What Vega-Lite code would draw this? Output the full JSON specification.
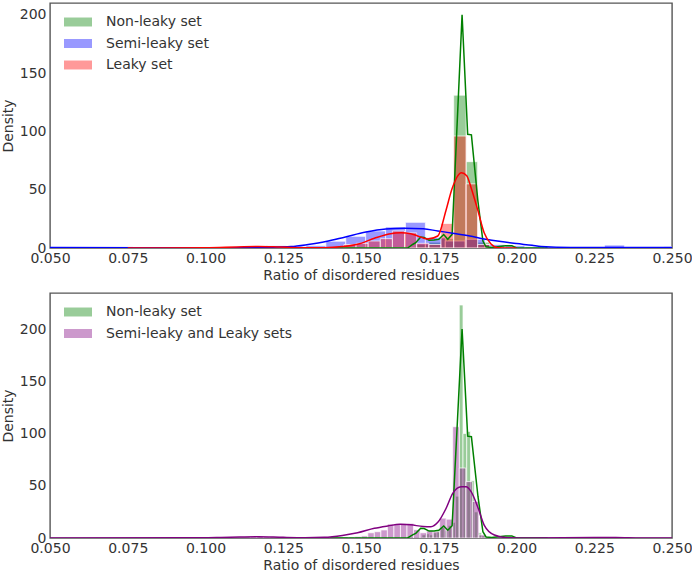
{
  "$schema": "https://vega.github.io/schema/vega-lite/v6.json",
  "background": "white",
  "padding": {"left": 0, "top": 2, "right": 5, "bottom": 0},
  "spacing": 9,
  "config": {
    "font": "DejaVu Sans",
    "view": {"stroke": "#555555", "strokeWidth": 1.4},
    "axis": {"grid": false, "ticks": false, "tickSize": 0, "domain": false, "labelFontSize": 14, "labelColor": "#333333", "titleFontSize": 14, "titleColor": "#333333", "titleFontWeight": "normal", "labelFont": "DejaVu Sans", "titleFont": "DejaVu Sans"},
    "legend": {"labelFont": "DejaVu Sans", "labelLimit": 400}
  },
  "datasets": {
    "hist_top": [
      {"set": "Non-leaky set", "x0": 0.1679, "x1": 0.1718, "d": 3},
      {"set": "Non-leaky set", "x0": 0.1718, "x1": 0.1757, "d": 5},
      {"set": "Non-leaky set", "x0": 0.1757, "x1": 0.1798, "d": 8},
      {"set": "Non-leaky set", "x0": 0.1798, "x1": 0.1838, "d": 131},
      {"set": "Non-leaky set", "x0": 0.1838, "x1": 0.1875, "d": 74},
      {"set": "Non-leaky set", "x0": 0.1875, "x1": 0.1914, "d": 5},
      {"set": "Non-leaky set", "x0": 0.1914, "x1": 0.1953, "d": 1},
      {"set": "Non-leaky set", "x0": 0.1953, "x1": 0.1992, "d": 1},
      {"set": "Semi-leaky set", "x0": 0.05, "x1": 0.0564, "d": 0.5},
      {"set": "Semi-leaky set", "x0": 0.1195, "x1": 0.1259, "d": 2},
      {"set": "Semi-leaky set", "x0": 0.1259, "x1": 0.1323, "d": 1},
      {"set": "Semi-leaky set", "x0": 0.1323, "x1": 0.1387, "d": 2},
      {"set": "Semi-leaky set", "x0": 0.1387, "x1": 0.1451, "d": 5.8},
      {"set": "Semi-leaky set", "x0": 0.1451, "x1": 0.1515, "d": 10},
      {"set": "Semi-leaky set", "x0": 0.1515, "x1": 0.1579, "d": 14.6},
      {"set": "Semi-leaky set", "x0": 0.1579, "x1": 0.1643, "d": 18},
      {"set": "Semi-leaky set", "x0": 0.1643, "x1": 0.1707, "d": 22},
      {"set": "Semi-leaky set", "x0": 0.1707, "x1": 0.1771, "d": 9},
      {"set": "Semi-leaky set", "x0": 0.1771, "x1": 0.1835, "d": 6},
      {"set": "Semi-leaky set", "x0": 0.1835, "x1": 0.1899, "d": 7.5},
      {"set": "Semi-leaky set", "x0": 0.1899, "x1": 0.1963, "d": 3},
      {"set": "Semi-leaky set", "x0": 0.1963, "x1": 0.2027, "d": 2},
      {"set": "Semi-leaky set", "x0": 0.2027, "x1": 0.2091, "d": 1},
      {"set": "Semi-leaky set", "x0": 0.2283, "x1": 0.2347, "d": 2.5},
      {"set": "Semi-leaky set", "x0": 0.2475, "x1": 0.25, "d": 1},
      {"set": "Leaky set", "x0": 0.1133, "x1": 0.1172, "d": 1.5},
      {"set": "Leaky set", "x0": 0.1172, "x1": 0.1211, "d": 1},
      {"set": "Leaky set", "x0": 0.1445, "x1": 0.1484, "d": 3},
      {"set": "Leaky set", "x0": 0.1484, "x1": 0.1523, "d": 4},
      {"set": "Leaky set", "x0": 0.1523, "x1": 0.1562, "d": 6},
      {"set": "Leaky set", "x0": 0.1562, "x1": 0.1601, "d": 8},
      {"set": "Leaky set", "x0": 0.1601, "x1": 0.164, "d": 14.6},
      {"set": "Leaky set", "x0": 0.164, "x1": 0.1679, "d": 13},
      {"set": "Leaky set", "x0": 0.1679, "x1": 0.1718, "d": 4},
      {"set": "Leaky set", "x0": 0.1718, "x1": 0.1757, "d": 3},
      {"set": "Leaky set", "x0": 0.1757, "x1": 0.1798, "d": 21},
      {"set": "Leaky set", "x0": 0.1798, "x1": 0.1838, "d": 96},
      {"set": "Leaky set", "x0": 0.1838, "x1": 0.1875, "d": 55},
      {"set": "Leaky set", "x0": 0.1875, "x1": 0.1914, "d": 3},
      {"set": "Leaky set", "x0": 0.1914, "x1": 0.1953, "d": 1}
    ],
    "hist_bottom": [
      {"set": "Non-leaky set", "x0": 0.1696, "x1": 0.1708, "d": 3},
      {"set": "Non-leaky set", "x0": 0.1708, "x1": 0.172, "d": 4},
      {"set": "Non-leaky set", "x0": 0.172, "x1": 0.1732, "d": 3},
      {"set": "Non-leaky set", "x0": 0.1732, "x1": 0.1744, "d": 5},
      {"set": "Non-leaky set", "x0": 0.1744, "x1": 0.1756, "d": 8},
      {"set": "Non-leaky set", "x0": 0.1756, "x1": 0.1768, "d": 10},
      {"set": "Non-leaky set", "x0": 0.1768, "x1": 0.178, "d": 7},
      {"set": "Non-leaky set", "x0": 0.178, "x1": 0.1792, "d": 12},
      {"set": "Non-leaky set", "x0": 0.1792, "x1": 0.1804, "d": 15},
      {"set": "Non-leaky set", "x0": 0.1804, "x1": 0.1816, "d": 40},
      {"set": "Non-leaky set", "x0": 0.1816, "x1": 0.1828, "d": 223},
      {"set": "Non-leaky set", "x0": 0.1828, "x1": 0.184, "d": 100},
      {"set": "Non-leaky set", "x0": 0.184, "x1": 0.1852, "d": 102},
      {"set": "Non-leaky set", "x0": 0.1852, "x1": 0.1864, "d": 55},
      {"set": "Non-leaky set", "x0": 0.1864, "x1": 0.1876, "d": 25},
      {"set": "Non-leaky set", "x0": 0.1876, "x1": 0.1888, "d": 5},
      {"set": "Non-leaky set", "x0": 0.1888, "x1": 0.19, "d": 2},
      {"set": "Semi-leaky and Leaky sets", "x0": 0.11439, "x1": 0.11649, "d": 1},
      {"set": "Semi-leaky and Leaky sets", "x0": 0.11649, "x1": 0.11859, "d": 1.5},
      {"set": "Semi-leaky and Leaky sets", "x0": 0.11859, "x1": 0.12069, "d": 1},
      {"set": "Semi-leaky and Leaky sets", "x0": 0.14589, "x1": 0.14799, "d": 1},
      {"set": "Semi-leaky and Leaky sets", "x0": 0.14799, "x1": 0.15009, "d": 1.5},
      {"set": "Semi-leaky and Leaky sets", "x0": 0.15009, "x1": 0.15219, "d": 2},
      {"set": "Semi-leaky and Leaky sets", "x0": 0.15219, "x1": 0.15429, "d": 5},
      {"set": "Semi-leaky and Leaky sets", "x0": 0.15429, "x1": 0.15639, "d": 6},
      {"set": "Semi-leaky and Leaky sets", "x0": 0.15639, "x1": 0.15849, "d": 7.7},
      {"set": "Semi-leaky and Leaky sets", "x0": 0.15849, "x1": 0.16059, "d": 13.4},
      {"set": "Semi-leaky and Leaky sets", "x0": 0.16059, "x1": 0.16269, "d": 13.4},
      {"set": "Semi-leaky and Leaky sets", "x0": 0.16269, "x1": 0.16479, "d": 14},
      {"set": "Semi-leaky and Leaky sets", "x0": 0.16479, "x1": 0.16689, "d": 14},
      {"set": "Semi-leaky and Leaky sets", "x0": 0.16689, "x1": 0.16899, "d": 8},
      {"set": "Semi-leaky and Leaky sets", "x0": 0.16899, "x1": 0.17109, "d": 5},
      {"set": "Semi-leaky and Leaky sets", "x0": 0.17109, "x1": 0.17319, "d": 7},
      {"set": "Semi-leaky and Leaky sets", "x0": 0.17319, "x1": 0.17529, "d": 6},
      {"set": "Semi-leaky and Leaky sets", "x0": 0.17529, "x1": 0.17739, "d": 19},
      {"set": "Semi-leaky and Leaky sets", "x0": 0.17739, "x1": 0.17949, "d": 18},
      {"set": "Semi-leaky and Leaky sets", "x0": 0.17949, "x1": 0.18159, "d": 106.5},
      {"set": "Semi-leaky and Leaky sets", "x0": 0.18159, "x1": 0.18369, "d": 67},
      {"set": "Semi-leaky and Leaky sets", "x0": 0.18369, "x1": 0.18579, "d": 54},
      {"set": "Semi-leaky and Leaky sets", "x0": 0.18579, "x1": 0.18789, "d": 35},
      {"set": "Semi-leaky and Leaky sets", "x0": 0.18789, "x1": 0.18999, "d": 3},
      {"set": "Semi-leaky and Leaky sets", "x0": 0.18999, "x1": 0.19209, "d": 1},
      {"set": "Semi-leaky and Leaky sets", "x0": 0.22569, "x1": 0.22779, "d": 1},
      {"set": "Semi-leaky and Leaky sets", "x0": 0.22779, "x1": 0.22989, "d": 1},
      {"set": "Semi-leaky and Leaky sets", "x0": 0.22989, "x1": 0.23199, "d": 1}
    ],
    "kde_green": [
      {"x": 0.14, "d": 0}, {"x": 0.165, "d": 0}, {"x": 0.1666, "d": 3}, {"x": 0.1676, "d": 4.5},
      {"x": 0.1692, "d": 9.4}, {"x": 0.1703, "d": 9}, {"x": 0.1719, "d": 6.6}, {"x": 0.1735, "d": 6.8},
      {"x": 0.175, "d": 7.4}, {"x": 0.1766, "d": 11.5}, {"x": 0.1779, "d": 7.5}, {"x": 0.1793, "d": 11.7},
      {"x": 0.1825, "d": 200}, {"x": 0.1843, "d": 97.5}, {"x": 0.1855, "d": 97}, {"x": 0.1876, "d": 40},
      {"x": 0.1892, "d": 6}, {"x": 0.1902, "d": 1}, {"x": 0.192, "d": 0.5}, {"x": 0.1965, "d": 2},
      {"x": 0.1985, "d": 2}, {"x": 0.2, "d": 0}, {"x": 0.21, "d": 0}
    ],
    "kde_blue": [
      {"x": 0.05, "d": 0.4}, {"x": 0.08, "d": 0.3}, {"x": 0.11, "d": 0.3}, {"x": 0.12, "d": 0.6},
      {"x": 0.1275, "d": 1.2}, {"x": 0.133, "d": 3}, {"x": 0.1387, "d": 5.5}, {"x": 0.145, "d": 9.5},
      {"x": 0.1516, "d": 13.7}, {"x": 0.158, "d": 16.3}, {"x": 0.164, "d": 17}, {"x": 0.17, "d": 16.5},
      {"x": 0.1747, "d": 14.6}, {"x": 0.18, "d": 12.5}, {"x": 0.185, "d": 10.3}, {"x": 0.1896, "d": 7.8},
      {"x": 0.195, "d": 5.5}, {"x": 0.2, "d": 3.8}, {"x": 0.205, "d": 2.3}, {"x": 0.2079, "d": 1.3},
      {"x": 0.2175, "d": 0.5}, {"x": 0.235, "d": 0.5}, {"x": 0.25, "d": 0.5}
    ],
    "kde_red": [
      {"x": 0.075, "d": 0}, {"x": 0.1, "d": 0.3}, {"x": 0.11, "d": 0.9}, {"x": 0.117, "d": 1.3},
      {"x": 0.124, "d": 0.8}, {"x": 0.13, "d": 0.3}, {"x": 0.1382, "d": 0.2}, {"x": 0.144, "d": 1.2},
      {"x": 0.1489, "d": 3.2}, {"x": 0.1543, "d": 8.3}, {"x": 0.159, "d": 12}, {"x": 0.1629, "d": 13.1},
      {"x": 0.166, "d": 12.3}, {"x": 0.1682, "d": 10.3}, {"x": 0.1714, "d": 7.7}, {"x": 0.1747, "d": 10.3},
      {"x": 0.1773, "d": 32}, {"x": 0.1793, "d": 51}, {"x": 0.1823, "d": 64.5}, {"x": 0.184, "d": 62},
      {"x": 0.1854, "d": 51.7}, {"x": 0.1875, "d": 33}, {"x": 0.1896, "d": 13}, {"x": 0.1918, "d": 3.4},
      {"x": 0.194, "d": 0.3}, {"x": 0.2, "d": 0}
    ],
    "kde_purple": [
      {"x": 0.05, "d": 0}, {"x": 0.095, "d": 0.2}, {"x": 0.108, "d": 0.8}, {"x": 0.117, "d": 1.2},
      {"x": 0.125, "d": 0.6}, {"x": 0.132, "d": 0.3}, {"x": 0.1382, "d": 0.7}, {"x": 0.144, "d": 2.5},
      {"x": 0.1489, "d": 5}, {"x": 0.1543, "d": 9.3}, {"x": 0.1586, "d": 11.5}, {"x": 0.1625, "d": 13.1},
      {"x": 0.166, "d": 12.6}, {"x": 0.17, "d": 11}, {"x": 0.1725, "d": 10.8}, {"x": 0.1747, "d": 15},
      {"x": 0.1773, "d": 28}, {"x": 0.1795, "d": 42.8}, {"x": 0.1822, "d": 49}, {"x": 0.1838, "d": 49},
      {"x": 0.1854, "d": 44.3}, {"x": 0.1875, "d": 30}, {"x": 0.1896, "d": 12.4}, {"x": 0.1929, "d": 2.9},
      {"x": 0.1972, "d": 0.3}, {"x": 0.205, "d": 0}, {"x": 0.225, "d": 0.5}, {"x": 0.232, "d": 0.5},
      {"x": 0.24, "d": 0}, {"x": 0.25, "d": 0}
    ]
  },
  "vconcat": [
    {
      "width": 622,
      "height": 245,
      "layer": [
        {
          "data": {"name": "hist_top"},
          "mark": {"type": "rect", "fillOpacity": 0.4, "stroke": "white", "strokeWidth": 1, "strokeOpacity": 0.7, "clip": true},
          "encoding": {
            "x": {"field": "x0", "type": "quantitative", "scale": {"domain": [0.05, 0.25], "nice": false, "zero": false},
              "axis": {"values": [0.05, 0.075, 0.1, 0.125, 0.15, 0.175, 0.2, 0.225, 0.25], "format": ".3f", "labelPadding": 3, "labelFlush": false, "title": "Ratio of disordered residues", "titlePadding": 3}},
            "x2": {"field": "x1"},
            "y": {"field": "d", "type": "quantitative", "scale": {"domain": [0, 210], "nice": false},
              "axis": {"values": [0, 25, 50, 75, 100, 125, 150, 175, 200], "labelPadding": 4, "title": "Density", "titlePadding": 4}},
            "y2": {"datum": 0},
            "fill": {"field": "set", "type": "nominal",
              "scale": {"domain": ["Non-leaky set", "Semi-leaky set", "Leaky set"], "range": ["green", "blue", "red"]},
              "legend": {"title": null, "orient": "none", "legendX": 21, "legendY": 12, "symbolType": "M-2,-0.64H2V0.64H-2Z", "symbolSize": 196, "symbolOpacity": 0.4, "symbolStrokeWidth": 0, "labelFontSize": 14, "labelColor": "#333333", "labelOffset": 21, "rowPadding": 7.5}}
          }
        },
        {
          "data": {"name": "kde_green"},
          "mark": {"type": "line", "color": "green", "strokeWidth": 1.5, "clip": true},
          "encoding": {"x": {"field": "x", "type": "quantitative"}, "y": {"field": "d", "type": "quantitative"}}
        },
        {
          "data": {"name": "kde_blue"},
          "mark": {"type": "line", "color": "blue", "strokeWidth": 1.5, "interpolate": "monotone", "clip": true},
          "encoding": {"x": {"field": "x", "type": "quantitative"}, "y": {"field": "d", "type": "quantitative"}}
        },
        {
          "data": {"name": "kde_red"},
          "mark": {"type": "line", "color": "red", "strokeWidth": 1.5, "interpolate": "monotone", "clip": true},
          "encoding": {"x": {"field": "x", "type": "quantitative"}, "y": {"field": "d", "type": "quantitative"}}
        },
        {
          "mark": {"type": "text", "text": "A", "fontSize": 20, "fontWeight": "bold", "font": "DejaVu Sans", "color": "#262626", "align": "center", "baseline": "middle"},
          "encoding": {"x": {"datum": 0.2375, "type": "quantitative"}, "y": {"datum": 177, "type": "quantitative"}}
        }
      ]
    },
    {
      "width": 622,
      "height": 245,
      "layer": [
        {
          "data": {"name": "hist_bottom"},
          "mark": {"type": "rect", "fillOpacity": 0.4, "stroke": "white", "strokeWidth": 1, "strokeOpacity": 0.7, "clip": true},
          "encoding": {
            "x": {"field": "x0", "type": "quantitative", "scale": {"domain": [0.05, 0.25], "nice": false, "zero": false},
              "axis": {"values": [0.05, 0.075, 0.1, 0.125, 0.15, 0.175, 0.2, 0.225, 0.25], "format": ".3f", "labelPadding": 3, "labelFlush": false, "title": "Ratio of disordered residues", "titlePadding": 3}},
            "x2": {"field": "x1"},
            "y": {"field": "d", "type": "quantitative", "scale": {"domain": [0, 234.5], "nice": false},
              "axis": {"values": [0, 50, 100, 150, 200], "labelPadding": 4, "title": "Density", "titlePadding": 4}},
            "y2": {"datum": 0},
            "fill": {"field": "set", "type": "nominal",
              "scale": {"domain": ["Non-leaky set", "Semi-leaky and Leaky sets"], "range": ["green", "purple"]},
              "legend": {"title": null, "orient": "none", "legendX": 21, "legendY": 12, "symbolType": "M-2,-0.64H2V0.64H-2Z", "symbolSize": 196, "symbolOpacity": 0.4, "symbolStrokeWidth": 0, "labelFontSize": 14, "labelColor": "#333333", "labelOffset": 21, "rowPadding": 7.5}}
          }
        },
        {
          "data": {"name": "kde_green"},
          "mark": {"type": "line", "color": "green", "strokeWidth": 1.5, "clip": true},
          "encoding": {"x": {"field": "x", "type": "quantitative"}, "y": {"field": "d", "type": "quantitative"}}
        },
        {
          "data": {"name": "kde_purple"},
          "mark": {"type": "line", "color": "purple", "strokeWidth": 1.5, "interpolate": "monotone", "clip": true},
          "encoding": {"x": {"field": "x", "type": "quantitative"}, "y": {"field": "d", "type": "quantitative"}}
        },
        {
          "mark": {"type": "text", "text": "B", "fontSize": 20, "fontWeight": "bold", "font": "DejaVu Sans", "color": "#262626", "align": "center", "baseline": "middle"},
          "encoding": {"x": {"datum": 0.2378, "type": "quantitative"}, "y": {"datum": 205, "type": "quantitative"}}
        }
      ]
    }
  ],
  "resolve": {"scale": {"x": "independent", "y": "independent", "fill": "independent"}, "legend": {"fill": "independent"}}
}
